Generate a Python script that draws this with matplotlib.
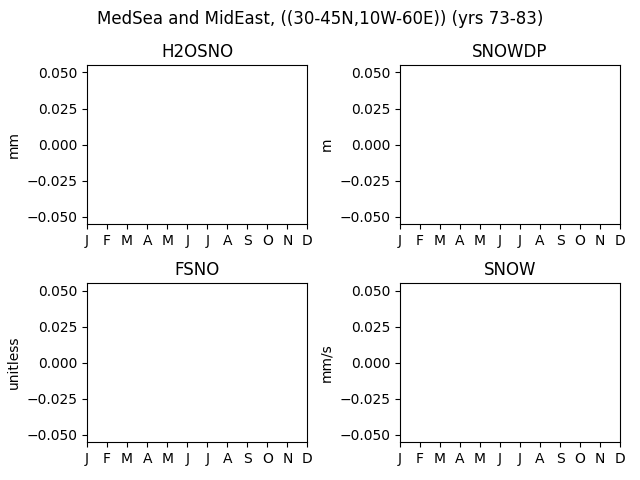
import numpy as np
import matplotlib.pyplot as plt

months = ['J', 'F', 'M', 'A', 'M', 'J', 'J', 'A', 'S', 'O', 'N', 'D']
month_num = list(range(1, 13))

# variables and units, no valid data for this region (no snow)
variables = ['H2OSNO', 'SNOWDP', 'FSNO', 'SNOW']
units = ['mm', 'm', 'unitless', 'mm/s']
h2osno = [np.nan] * 12
snowdp = [np.nan] * 12
fsno = [np.nan] * 12
snow = [np.nan] * 12
series = [h2osno, snowdp, fsno, snow]

fig, axes = plt.subplots(2, 2, figsize=(6.4, 4.8))
fig.suptitle('MedSea and MidEast, ((30-45N,10W-60E)) (yrs 73-83)')

for ax, name, unit, vals in zip(axes.flat, variables, units, series):
    ax.plot(month_num, vals)
    ax.set_title(name)
    ax.set_ylabel(unit)
    ax.set_xticks(month_num)
    ax.set_xticklabels(months)
    ax.set_xlim(1, 12)
    ax.set_ylim(-0.055, 0.055)
    ax.set_yticks([-0.05, -0.025, 0.0, 0.025, 0.05])

fig.subplots_adjust(left=0.136, right=0.969, top=0.864, bottom=0.079,
                    wspace=0.419, hspace=0.374)
fig.savefig('out.png', dpi=100)
